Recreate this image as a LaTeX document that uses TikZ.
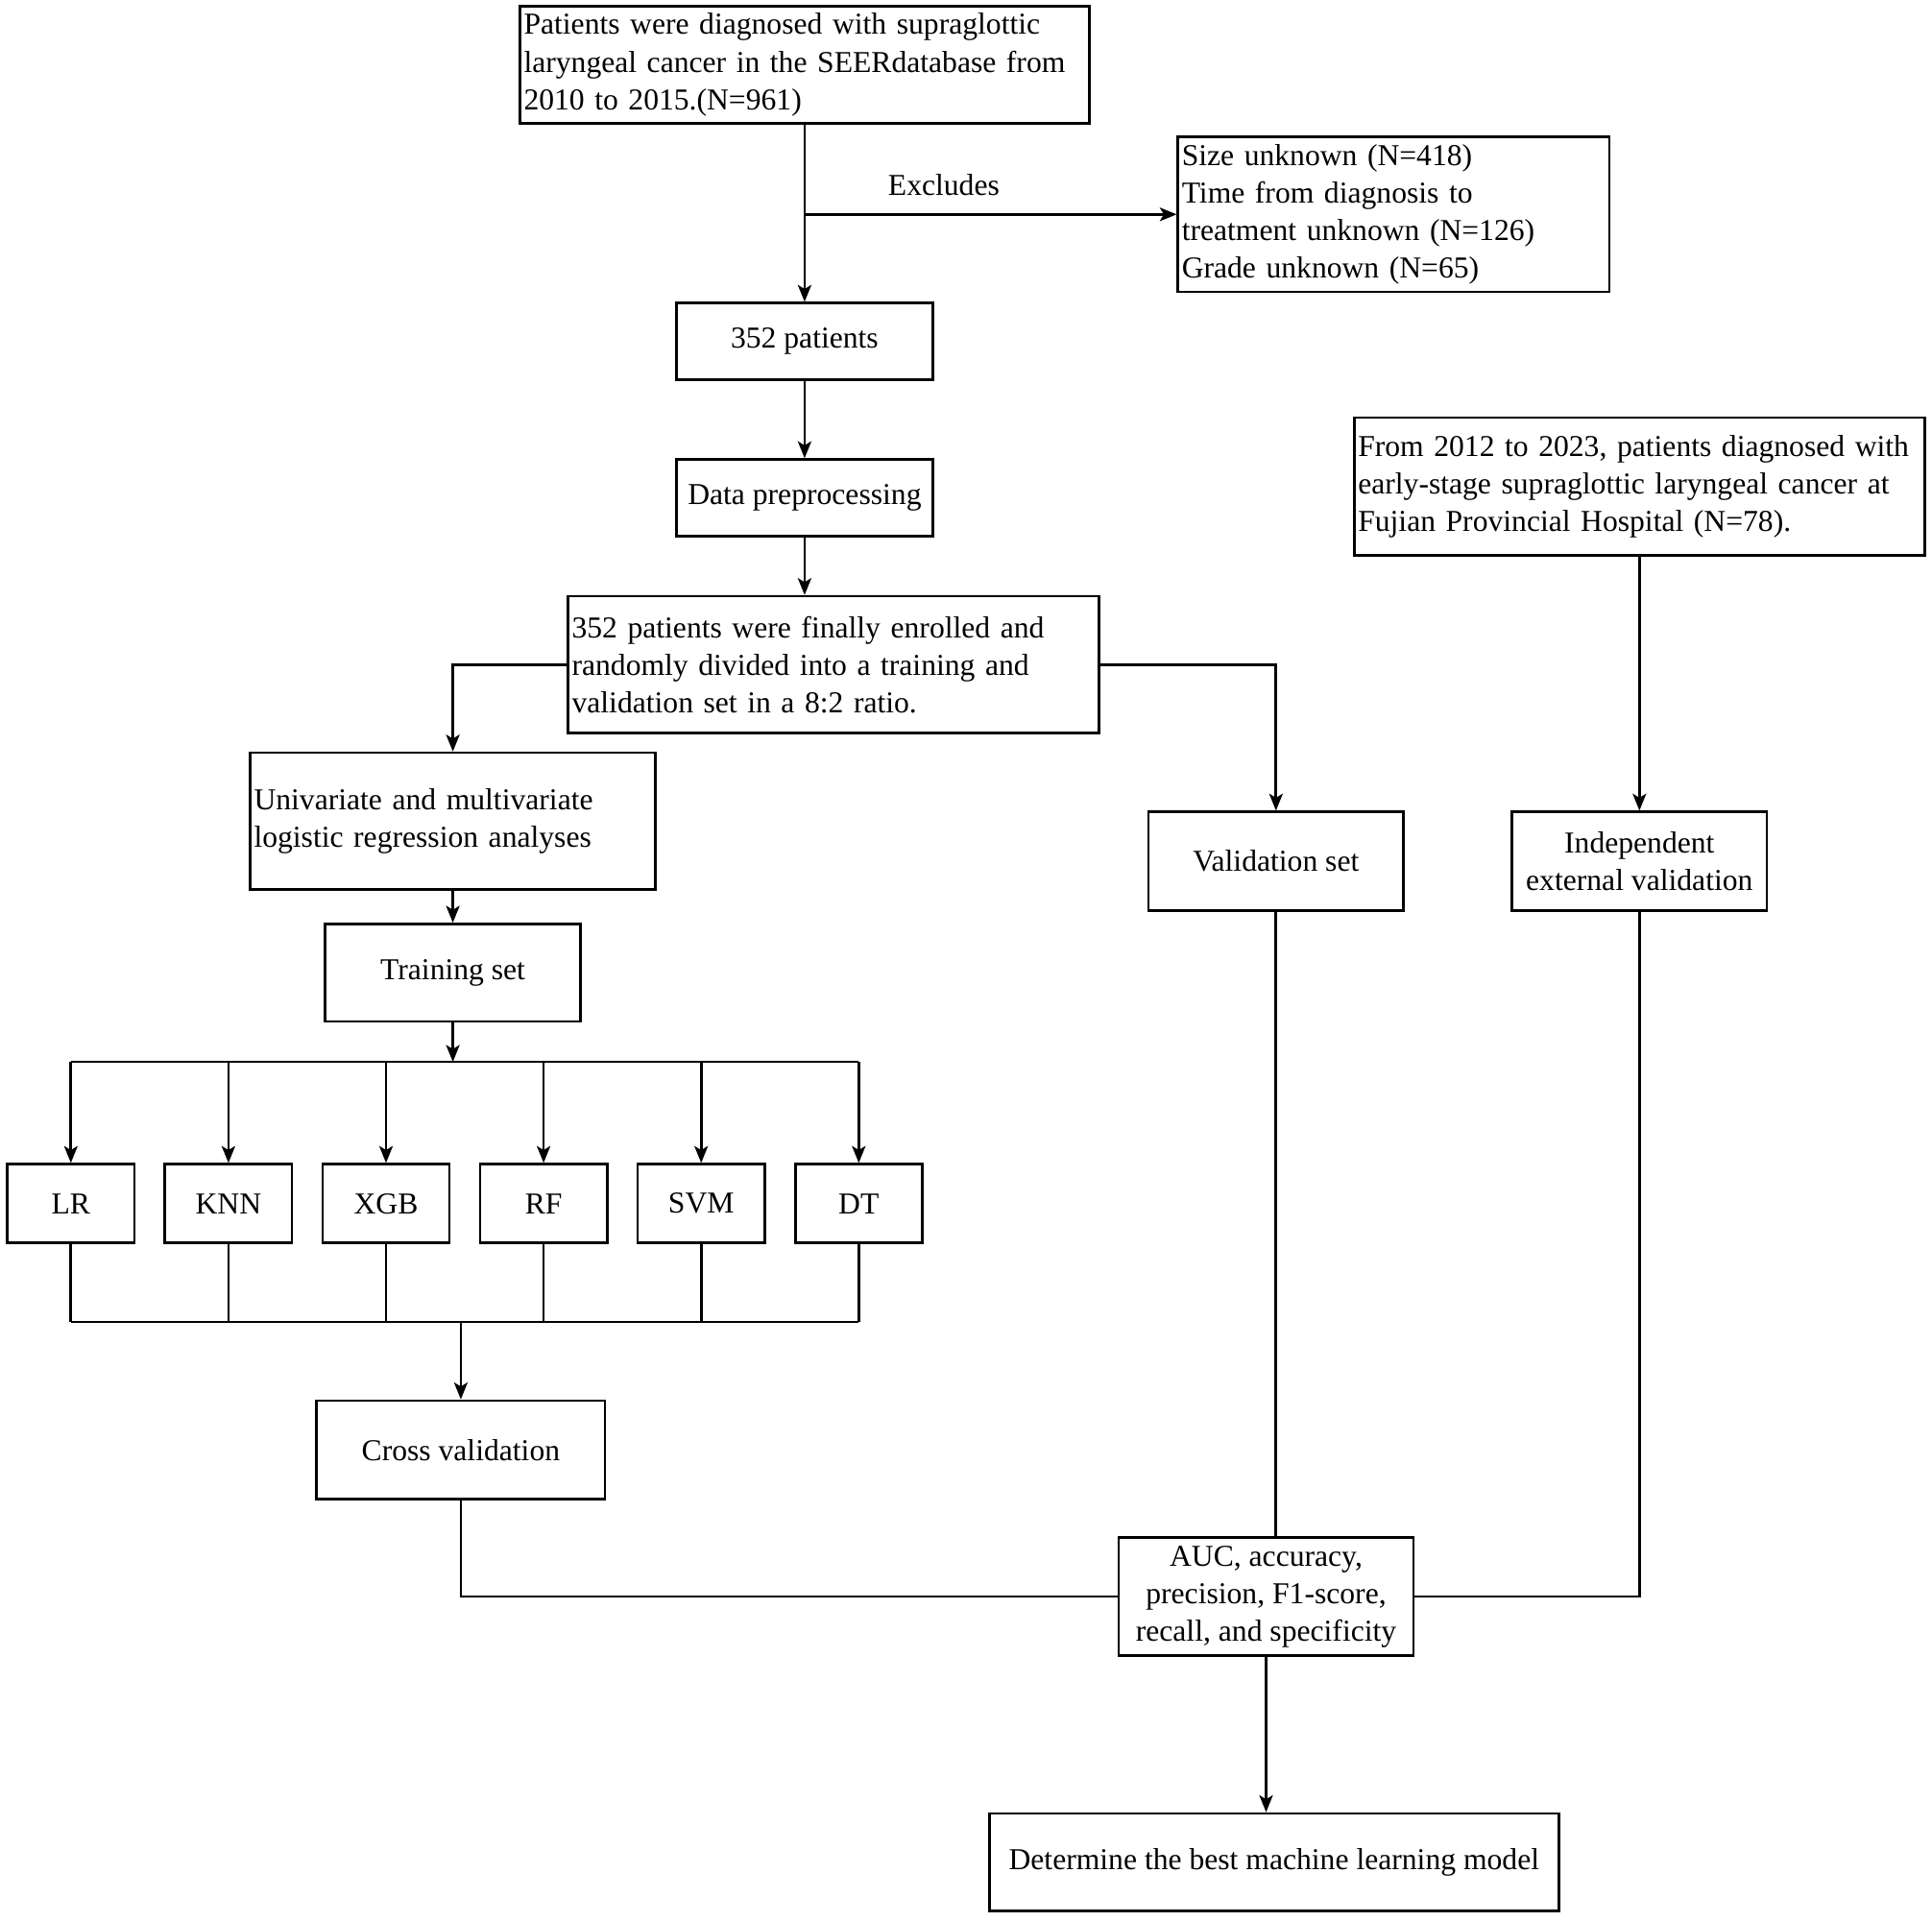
\documentclass[tikz,border=0pt]{standalone}
\usepackage{fontspec}
\setmainfont{Liberation Serif}
\usetikzlibrary{arrows.meta}
\tikzset{
  box/.style={
    draw=black,
    line width=0.75pt,
    inner xsep=0.04cm,
    inner ysep=0pt,
    align=center,
    font=\boxfont
  },
  box-left/.style={box, align=left},
  box-mid/.style={box, minimum width=2.656cm},
  box-model/.style={box, minimum width=1.322cm, minimum height=0.821cm},
  link/.style={line width=0.75pt},
  link-arrow/.style={link, -{Stealth[length=5pt,width=4pt,inset=1.2pt]}}
}
\newcommand{\boxfont}{\fontsize{9.0}{11.1}\selectfont}

\begin{document}
\begin{tikzpicture}
  \useasboundingbox (0,0) rectangle (20.12,-20.0);

  % --- SEER cohort and exclusions ---
  \node[box-left, text width=5.848cm, minimum height=1.219cm] (seer) at (8.379,-0.674)
    {Patients were diagnosed with supraglottic\\laryngeal cancer in the SEERdatabase from\\2010 to 2015.(N=961)};
  \node[box-left, text width=4.411cm, minimum height=1.617cm] (excl) at (14.513,-2.233)
    {Size unknown (N=418)\\Time from diagnosis to\\treatment unknown (N=126)\\Grade unknown (N=65)};
  \node[font=\boxfont] (excl-label) at (9.829,-1.925) {Excludes};

  \node[box, minimum width=2.669cm, minimum height=0.796cm] (pat) at (8.379,-3.555) {352 patients};
  \node[box, minimum width=2.669cm, minimum height=0.796cm] (prep) at (8.379,-5.184) {Data preprocessing};
  \node[box-left, text width=5.451cm, minimum height=1.424cm] (enroll) at (8.681,-6.923)
    {352 patients were finally enrolled and\\randomly divided into a training and\\validation set in a 8:2 ratio.};

  \draw[link-arrow] (seer.south) -- (pat.north);
  \draw[link-arrow] (seer.south |- excl.west) -- (excl.west);
  \draw[link-arrow] (pat.south) -- (prep.north);
  \draw[link-arrow] (prep.south) -- (prep.south |- enroll.north);

  % --- Training branch ---
  \node[box-left, text width=4.142cm, minimum height=1.424cm] (uni) at (4.716,-8.553)
    {Univariate and multivariate\\logistic regression analyses};
  \node[box-mid, minimum height=1.014cm] (train) at (4.716,-10.131) {Training set};

  \draw[link-arrow] (enroll.west) -| (uni.north);
  \draw[link-arrow] (uni.south) -- (train.north);

  % Models
  \foreach \name/\txt [count=\i from 0] in {lr/LR, knn/KNN, xgb/XGB, rf/RF, svm/SVM, dt/DT} {
    \node[box-model] (\name) at ({0.738+1.641*\i},-12.537) {\txt};
  }
  \coordinate (bus-top) at (4.716,-11.061);
  \coordinate (bus-bot) at (4.799,-13.769);

  \draw[link] (lr.north |- bus-top) -- (dt.north |- bus-top);
  \draw[link-arrow] (train.south) -- (bus-top);
  \foreach \name in {lr, knn, xgb, rf, svm, dt} {
    \draw[link-arrow] (\name.north |- bus-top) -- (\name.north);
    \draw[link] (\name.south) -- (\name.south |- bus-bot);
  }
  \draw[link] (lr.south |- bus-bot) -- (dt.south |- bus-bot);

  \node[box, minimum width=3.003cm, minimum height=1.027cm] (cv) at (4.799,-15.103) {Cross validation};
  \draw[link-arrow] (bus-bot) -- (cv.north);

  % --- Validation branches ---
  \node[box-mid, minimum height=1.027cm] (val) at (13.288,-8.970) {Validation set};
  \draw[link-arrow] (enroll.east) -| (val.north);

  \node[box-left, text width=5.861cm, minimum height=1.437cm] (ext) at (17.073,-5.069)
    {From 2012 to 2023, patients diagnosed with\\early-stage supraglottic laryngeal cancer at\\Fujian Provincial Hospital (N=78).};
  \node[box-mid, minimum height=1.027cm] (ind) at (17.073,-8.970) {Independent\\external validation};
  \draw[link-arrow] (ext.south) -- (ind.north);

  % --- Evaluation ---
  \node[box, minimum width=3.067cm, minimum height=1.232cm] (metric) at (13.185,-16.630)
    {AUC, accuracy,\\precision, F1-score,\\recall, and specificity};
  \node[box, minimum width=5.928cm, minimum height=1.014cm] (best) at (13.268,-19.396)
    {Determine the best machine learning model};

  \draw[link] (cv.south) |- (metric.west);
  \draw[link] (val.south) -- (val.south |- metric.north);
  \draw[link] (ind.south) |- (metric.east);
  \draw[link-arrow] (metric.south) -- (metric.south |- best.north);
\end{tikzpicture}
\end{document}
